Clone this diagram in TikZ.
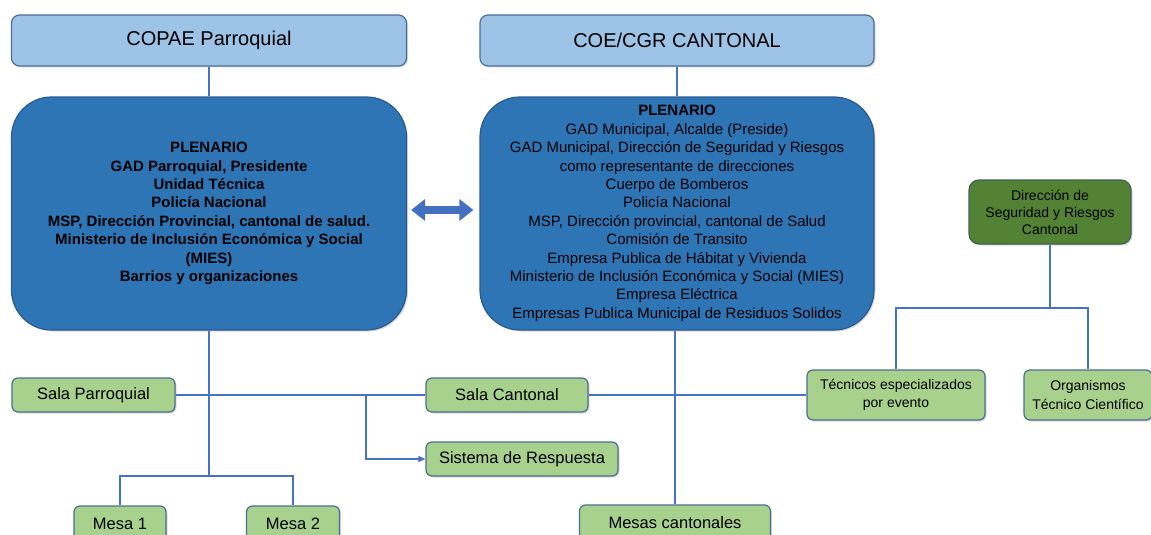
\documentclass[tikz,border=0pt]{standalone}
\usepackage{fontspec}
\setmainfont{Liberation Sans}
\usetikzlibrary{shadows,arrows.meta,calc}
\definecolor{hdrfill}{HTML}{9DC3E6}
\definecolor{hdrdraw}{HTML}{4A6F99}
\definecolor{plenfill}{HTML}{2E75B6}
\definecolor{plendraw}{HTML}{2A5A90}
\definecolor{gfill}{HTML}{A9D18E}
\definecolor{gdraw}{HTML}{4A6F8F}
\definecolor{dgfill}{HTML}{548235}
\definecolor{dgdraw}{HTML}{3F5F55}
\definecolor{lnc}{HTML}{4472C4}
\definecolor{arrc}{HTML}{4470C0}
\begin{document}
\begin{tikzpicture}[x=1pt,y=-1pt,
  box/.style={draw, line width=1.2pt, align=center, inner sep=0pt, text=black,
    drop shadow={shadow xshift=1.5pt, shadow yshift=-1.5pt, opacity=0.3}},
  hdr/.style={box, fill=hdrfill, draw=hdrdraw, rounded corners=8pt, font=\fontsize{20}{24}\selectfont},
  plen/.style={box, fill=plenfill, draw=plendraw, rounded corners=40pt, font=\fontsize{15}{18.4}\selectfont},
  gbox/.style={box, fill=gfill, draw=gdraw, rounded corners=6pt, font=\fontsize{16.5}{19}\selectfont},
  gsmall/.style={gbox, font=\fontsize{14}{18.5}\selectfont},
  dgbox/.style={box, fill=dgfill, draw=dgdraw, rounded corners=10pt, font=\fontsize{14}{17}\selectfont},
  conn/.style={draw=lnc, line width=1.4pt},
]
\useasboundingbox (0,0) rectangle (1151,535);
\clip (0,0) rectangle (1151,535);

% headers
\node[hdr, minimum width=395pt, minimum height=51pt] (cp) at (209,40.5) {COPAE Parroquial};
\node[hdr, minimum width=394pt, minimum height=51pt] (cc) at (677,40.5) {COE/CGR CANTONAL};

% plenarios
\node[plen, minimum width=395pt, minimum height=233pt, font=\fontsize{15}{18.4}\selectfont\bfseries] (lp) at (209,213.5)
  {PLENARIO\\GAD Parroquial, Presidente\\Unidad Técnica\\Policía Nacional\\MSP, Dirección Provincial, cantonal de salud.\\Ministerio de Inclusión Económica y Social\\(MIES)\\Barrios y organizaciones};
\node[plen, minimum width=394pt, minimum height=233pt] (rp) at (677,213.5)
  {\textbf{PLENARIO}\\GAD Municipal, Alcalde (Preside)\\GAD Municipal, Dirección de Seguridad y Riesgos\\como representante de direcciones\\Cuerpo de Bomberos\\Policía Nacional\\MSP, Dirección provincial, cantonal de Salud\\Comisión de Transito\\Empresa Publica de Hábitat y Vivienda\\Ministerio de Inclusión Económica y Social (MIES)\\Empresa Eléctrica\\Empresas Publica Municipal de Residuos Solidos};

% green boxes
\node[gbox, minimum width=163pt, minimum height=34pt] (sp) at (93.5,395) {Sala Parroquial};
\node[gbox, minimum width=162pt, minimum height=34pt] (sc) at (507,395) {Sala Cantonal};
\node[gbox, minimum width=192pt, minimum height=34pt] (sr) at (522,459) {Sistema de Respuesta};
\node[gsmall, minimum width=178pt, minimum height=50pt] (te) at (896,395) {Técnicos especializados\\por evento};
\node[gsmall, minimum width=128pt, minimum height=50pt] (og) at (1088,395) {Organismos\\Técnico Científico};
\node[gbox, minimum width=92pt, minimum height=36pt] (m1) at (120,524) {Mesa 1};
\node[gbox, minimum width=93pt, minimum height=36pt] (m2) at (293,524) {Mesa 2};
\node[gbox, minimum width=191pt, minimum height=36pt] (mc) at (675,523) {Mesas cantonales};
\node[dgbox, minimum width=162pt, minimum height=64pt] (dr) at (1050,212) {Dirección de\\Seguridad y Riesgos\\Cantonal};

% connectors
\coordinate (mj) at (209,476);
\coordinate (sb) at (366,395);
\coordinate (dj) at (1050,308);
\draw[conn] (cp.south) -- (lp.north);
\draw[conn] (cc.south) -- (rp.north);
\draw[conn] (lp.south) -- (mj);
\draw[conn] (m1.north) |- (mj) -| (m2.north);
\draw[conn] (sp.east) -- (sc.west);
\draw[conn] (sc.east) -- (te.west);
\draw[conn, -{Triangle[length=7pt,width=6pt]}] (sb) |- (sr.west);
\draw[conn] (rp.south -| mc.north) -- (mc.north);
\draw[conn] (dr.south) -- (dj);
\draw[conn] (te.north) |- (dj) -| (og.north);

% double arrow between plenarios
\draw[draw=arrc, line width=8pt, {Triangle[length=14pt,width=21pt]}-{Triangle[length=14pt,width=21pt]}]
  ($(lp.east)+(4,-3.5)$) -- ($(rp.west)+(-6,-3.5)$);
\end{tikzpicture}
\end{document}
